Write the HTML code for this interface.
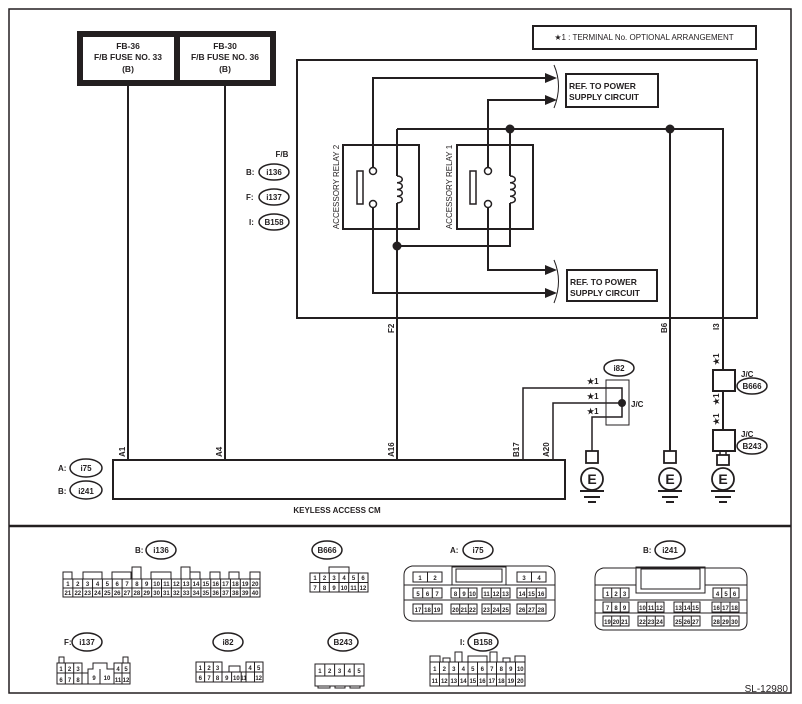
<!DOCTYPE html>
<html><head><meta charset="utf-8"><style>
html,body{margin:0;padding:0;background:#fff}
svg{display:block;font-family:"Liberation Sans",sans-serif}
text{fill:#231f20}
</style></head><body>
<svg width="802" height="704" viewBox="0 0 802 704" xmlns="http://www.w3.org/2000/svg">
<g fill="none" stroke="#231f20" stroke-width="2">
<rect x="9" y="9" width="782" height="684" stroke-width="1.5"/>
<line x1="9" y1="526" x2="791" y2="526" stroke-width="2.5"/>
<rect x="80" y="34" width="193" height="49" stroke-width="6"/>
<line x1="177" y1="34" x2="177" y2="83" stroke-width="6"/>
<line x1="128" y1="86" x2="128" y2="460"/>
<line x1="225" y1="86" x2="225" y2="460"/>
<rect x="533" y="26" width="223" height="23"/>
<rect x="297" y="60" width="460" height="258"/>
<rect x="566" y="74" width="92" height="33"/>
<rect x="567" y="270" width="90" height="31"/>
<rect x="343" y="145" width="76" height="84"/>
<rect x="457" y="145" width="76" height="84"/>
<rect x="357" y="171" width="6" height="33" stroke-width="1.5"/>
<rect x="470" y="171" width="6" height="33" stroke-width="1.5"/>
<circle cx="373" cy="171" r="3.5" stroke-width="1.5"/>
<circle cx="373" cy="204" r="3.5" stroke-width="1.5"/>
<circle cx="488" cy="171" r="3.5" stroke-width="1.5"/>
<circle cx="488" cy="204" r="3.5" stroke-width="1.5"/>
<path d="M373 167.5V78H545M488 167.5V100H545M488 207.5V270H545M373 207.5V293H545"/>
<path d="M397 129H723V370M723 391V430M670 129V451M510 129V176M510 203V246H397M397 129V176M397 203V460"/>
<path d="M397 176c7 0 7 6.75 0 6.75c7 0 7 6.75 0 6.75c7 0 7 6.75 0 6.75c7 0 7 6.75 0 6.75M510 176c7 0 7 6.75 0 6.75c7 0 7 6.75 0 6.75c7 0 7 6.75 0 6.75c7 0 7 6.75 0 6.75" stroke-width="1.5"/>
<path d="M554 65q9 21 0 43M554 260q9 21 0 43" stroke-width="1"/>
<rect x="113" y="460" width="452" height="39"/>
<path d="M523 460V388H622V417H592V451M553 460V403H622" stroke-width="1.5"/>
<rect x="606" y="380" width="23" height="45" stroke-width="1"/>
<rect x="713" y="370" width="22" height="21"/>
<rect x="713" y="430" width="22" height="21"/>
<path d="M720 451V455M726 451V455" stroke-width="1.5"/>
<g stroke-width="1.8">
<rect x="586" y="451" width="12" height="12"/><circle cx="592" cy="479" r="11"/>
<rect x="664" y="451" width="12" height="12"/><circle cx="670" cy="479" r="11"/>
<rect x="717" y="455" width="12" height="10"/><circle cx="723" cy="479" r="11"/>
</g>
<path d="M580 491H604M584 497H600M588 502H596M658 491H682M662 497H678M666 502H674M711 491H735M715 497H731M719 502H727"/>
<g stroke-width="1.5">
<ellipse cx="274" cy="172" rx="15" ry="8"/><ellipse cx="274" cy="197" rx="15" ry="8"/><ellipse cx="274" cy="222" rx="15" ry="8"/>
<ellipse cx="86" cy="468" rx="16" ry="9"/><ellipse cx="86" cy="490" rx="16" ry="9"/>
<ellipse cx="619" cy="368" rx="15" ry="8"/><ellipse cx="752" cy="386" rx="15" ry="8"/><ellipse cx="752" cy="446" rx="15" ry="8"/>
<ellipse cx="161" cy="550" rx="15" ry="9"/><ellipse cx="327" cy="550" rx="15" ry="9"/><ellipse cx="478" cy="550" rx="15" ry="9"/><ellipse cx="670" cy="550" rx="15" ry="9"/>
<ellipse cx="87" cy="642" rx="15" ry="9"/><ellipse cx="228" cy="642" rx="15" ry="9"/><ellipse cx="343" cy="642" rx="15" ry="9"/><ellipse cx="483" cy="642" rx="15" ry="9"/>
</g>
</g>
<g fill="#231f20">
<circle cx="510" cy="129" r="4.5"/><circle cx="670" cy="129" r="4.5"/><circle cx="397" cy="246" r="4.5"/><circle cx="622" cy="403" r="4"/>
<path d="M545 73L557 78L545 83ZM545 95L557 100L545 105ZM545 265L557 270L545 275ZM545 288L557 293L545 298Z"/>
</g>
<g font-size="8.5" font-weight="bold" text-anchor="middle">
<text x="128" y="49">FB-36</text><text x="128" y="60">F/B FUSE NO. 33</text><text x="128" y="72">(B)</text>
<text x="225" y="49">FB-30</text><text x="225" y="60">F/B FUSE NO. 36</text><text x="225" y="72">(B)</text>
<text x="644" y="40" font-size="8" font-weight="normal">★1 : TERMINAL No. OPTIONAL ARRANGEMENT</text>
<text x="569" y="89" text-anchor="start">REF. TO POWER</text><text x="569" y="100" text-anchor="start">SUPPLY CIRCUIT</text>
<text x="570" y="285" text-anchor="start">REF. TO POWER</text><text x="570" y="296" text-anchor="start">SUPPLY CIRCUIT</text>
<text x="337" y="513" font-size="8">KEYLESS ACCESS CM</text>
</g>
<g font-size="8" font-weight="bold">
<text x="282" y="157" text-anchor="middle">F/B</text>
<text x="246" y="175">B:</text><text x="274" y="175" text-anchor="middle">i136</text>
<text x="246" y="200">F:</text><text x="274" y="200" text-anchor="middle">i137</text>
<text x="249" y="225">I:</text><text x="274" y="225" text-anchor="middle">B158</text>
<text x="58" y="471">A:</text><text x="86" y="471" text-anchor="middle">i75</text>
<text x="58" y="494">B:</text><text x="86" y="494" text-anchor="middle">i241</text>
<text x="619" y="371" text-anchor="middle">i82</text>
<text x="752" y="389" text-anchor="middle">B666</text><text x="752" y="449" text-anchor="middle">B243</text>
<text x="741" y="377">J/C</text><text x="741" y="437">J/C</text><text x="631" y="407">J/C</text>
<text x="587" y="384">★1</text><text x="587" y="399">★1</text><text x="587" y="414">★1</text>
<g transform="rotate(-90)">
<text x="-187" y="339" text-anchor="middle" font-weight="normal">ACCESSORY RELAY 2</text>
<text x="-187" y="452" text-anchor="middle" font-weight="normal">ACCESSORY RELAY 1</text>
<text x="-457" y="125">A1</text><text x="-457" y="222">A4</text><text x="-457" y="394">A16</text>
<text x="-457" y="519">B17</text><text x="-457" y="549">A20</text>
<text x="-333" y="394">F2</text><text x="-333" y="667">B6</text><text x="-330" y="719">I3</text>
<text x="-365" y="719">★1</text><text x="-405" y="719">★1</text><text x="-425" y="719">★1</text>
</g>
<text x="135" y="553">B:</text><text x="161" y="553" text-anchor="middle">i136</text>
<text x="327" y="553" text-anchor="middle">B666</text>
<text x="450" y="553">A:</text><text x="478" y="553" text-anchor="middle">i75</text>
<text x="643" y="553">B:</text><text x="670" y="553" text-anchor="middle">i241</text>
<text x="64" y="645">F:</text><text x="87" y="645" text-anchor="middle">i137</text>
<text x="228" y="645" text-anchor="middle">i82</text>
<text x="343" y="645" text-anchor="middle">B243</text>
<text x="460" y="645">I:</text><text x="483" y="645" text-anchor="middle">B158</text>
<text x="788" y="692" text-anchor="end" font-size="10" font-weight="normal">SL-12980</text>
</g>
<g font-size="14" font-weight="bold" text-anchor="middle">
<text x="592" y="484">E</text><text x="670" y="484">E</text><text x="723" y="484">E</text>
</g>
<g fill="none" stroke="#231f20" stroke-width="1">
<rect x="63" y="579" width="197" height="18"/>
<path d="M63 588H260M72.85 579V597M82.7 579V597M92.55 579V597M102.4 579V597M112.25 579V597M122.1 579V597M131.95 579V597M141.8 579V597M151.65 579V597M161.5 579V597M171.35 579V597M181.2 579V597M191.05 579V597M200.9 579V597M210.75 579V597M220.6 579V597M230.45 579V597M240.3 579V597M250.15 579V597"/>
<path d="M63 579V572H72V579M83 579V572H102V579M112 579V572H131V579M132 579V567H141V579M151 579V572H171V579M181 579V567H190V579M190 579V572H200V579M210 579V572H220V579M229 579V572H239V579M250 579V572H260V579"/>
<rect x="310" y="573" width="58" height="19"/>
<path d="M310 582.5H368M319.7 573V592M329.3 573V592M339 573V592M348.7 573V592M358.3 573V592M329 573V567H349V573"/>
<path d="M412 566H548Q555 568 555 575V612Q555 620 548 621H412Q404 620 404 612V575Q404 568 412 566Z"/>
<path d="M404 585H555M404 600H555"/>
<rect x="452" y="567" width="54" height="18"/><rect x="456" y="569" width="46" height="13"/>
<rect x="413" y="572" width="29" height="10"/><line x1="427.5" y1="572" x2="427.5" y2="582"/>
<rect x="517" y="572" width="29" height="10"/><line x1="531.5" y1="572" x2="531.5" y2="582"/>
<rect x="413" y="588" width="29" height="10"/><rect x="451" y="588" width="26" height="10"/><rect x="482" y="588" width="28" height="10"/><rect x="517" y="588" width="29" height="10"/>
<rect x="413" y="604" width="29" height="10"/><rect x="451" y="604" width="26" height="10"/><rect x="482" y="604" width="28" height="10"/><rect x="517" y="604" width="29" height="10"/>
<path d="M422.7 588V598M432.3 588V598M459.7 588V598M468.3 588V598M491.3 588V598M500.7 588V598M526.7 588V598M536.3 588V598M422.7 604V614M432.3 604V614M459.7 604V614M468.3 604V614M491.3 604V614M500.7 604V614M526.7 604V614M536.3 604V614"/>
<path d="M603 568H740Q747 570 747 578V622Q747 629 740 630H603Q595 629 595 622V578Q595 570 603 568Z"/>
<path d="M595 585H636M705 585H747M595 600H747M595 613H747"/>
<rect x="636" y="567" width="69" height="26"/><rect x="641" y="569" width="59" height="20"/>
<rect x="603" y="588" width="26" height="10"/><rect x="713" y="588" width="26" height="10"/>
<rect x="603" y="602" width="26" height="10"/><rect x="638" y="602" width="26" height="10"/><rect x="674" y="602" width="26" height="10"/><rect x="712" y="602" width="27" height="10"/>
<rect x="603" y="616" width="26" height="10"/><rect x="638" y="616" width="26" height="10"/><rect x="674" y="616" width="26" height="10"/><rect x="712" y="616" width="27" height="10"/>
<path d="M611.7 588V598M620.3 588V598M721.7 588V598M730.3 588V598M611.7 602V612M620.3 602V612M646.7 602V612M655.3 602V612M682.7 602V612M691.3 602V612M721 602V612M730 602V612M611.7 616V626M620.3 616V626M646.7 616V626M655.3 616V626M682.7 616V626M691.3 616V626M721 616V626M730 616V626"/>
<path d="M57 663H82V673H88V669H93V663H107V669H114V663H130V684H57ZM57 673H82M114 673H130M65.3 663V684M73.7 663V684M82 673V684M88 669V684M100 669V684M114 669V684M122 663V684M59 663V657H64V663M123 663V657H128V663"/>
<path d="M196 662H222V672H229V666H240V672H246V662H263V682H196ZM196 672H263M204.6 662V682M213.3 662V682M222 672V682M231.6 672V682M241.2 672V682M246 662V682M254.5 662V682"/>
<path d="M315 664H364V686H315ZM315 676H364M324.8 664V676M334.6 664V676M344.4 664V676M354.2 664V676M318 686V688H330V686M335 686V688H345V686M350 686V688H360V686"/>
<path d="M430 662H525V686H430ZM430 674H525M439.5 662V686M449 662V686M458.5 662V686M468 662V686M477.5 662V686M487 662V686M496.5 662V686M506 662V686M515.5 662V686M430 662V656H440V662M443 662V658H450V662M455 662V652H462V662M468 662V656H487V662M490 662V652H497V662M503 662V658H510V662M515 662V656H525V662"/>
</g>
<g font-size="6" font-weight="bold" text-anchor="middle">
<text x="67.9" y="586">1</text><text x="77.8" y="586">2</text><text x="87.6" y="586">3</text><text x="97.5" y="586">4</text><text x="107.3" y="586">5</text><text x="117.2" y="586">6</text><text x="127" y="586">7</text><text x="136.9" y="586">8</text><text x="146.7" y="586">9</text><text x="156.6" y="586">10</text><text x="166.4" y="586">11</text><text x="176.3" y="586">12</text><text x="186.1" y="586">13</text><text x="196" y="586">14</text><text x="205.8" y="586">15</text><text x="215.7" y="586">16</text><text x="225.5" y="586">17</text><text x="235.4" y="586">18</text><text x="245.2" y="586">19</text><text x="255.1" y="586">20</text>
<text x="67.9" y="595">21</text><text x="77.8" y="595">22</text><text x="87.6" y="595">23</text><text x="97.5" y="595">24</text><text x="107.3" y="595">25</text><text x="117.2" y="595">26</text><text x="127" y="595">27</text><text x="136.9" y="595">28</text><text x="146.7" y="595">29</text><text x="156.6" y="595">30</text><text x="166.4" y="595">31</text><text x="176.3" y="595">32</text><text x="186.1" y="595">33</text><text x="196" y="595">34</text><text x="205.8" y="595">35</text><text x="215.7" y="595">36</text><text x="225.5" y="595">37</text><text x="235.4" y="595">38</text><text x="245.2" y="595">39</text><text x="255.1" y="595">40</text>
<text x="315" y="580">1</text><text x="324.5" y="580">2</text><text x="334" y="580">3</text><text x="344" y="580">4</text><text x="353.5" y="580">5</text><text x="363" y="580">6</text>
<text x="315" y="590">7</text><text x="324.5" y="590">8</text><text x="334" y="590">9</text><text x="344" y="590">10</text><text x="353.5" y="590">11</text><text x="363" y="590">12</text>
<text x="420" y="580">1</text><text x="435" y="580">2</text><text x="524" y="580">3</text><text x="539" y="580">4</text>
<text x="418" y="596">5</text><text x="427.5" y="596">6</text><text x="437" y="596">7</text><text x="455.5" y="596">8</text><text x="464" y="596">9</text><text x="472.5" y="596">10</text><text x="486.5" y="596">11</text><text x="496" y="596">12</text><text x="505.5" y="596">13</text><text x="522" y="596">14</text><text x="531.5" y="596">15</text><text x="541" y="596">16</text>
<text x="418" y="612">17</text><text x="427.5" y="612">18</text><text x="437" y="612">19</text><text x="455.5" y="612">20</text><text x="464" y="612">21</text><text x="472.5" y="612">22</text><text x="486.5" y="612">23</text><text x="496" y="612">24</text><text x="505.5" y="612">25</text><text x="522" y="612">26</text><text x="531.5" y="612">27</text><text x="541" y="612">28</text>
<text x="607.5" y="596">1</text><text x="616" y="596">2</text><text x="624.5" y="596">3</text><text x="717.5" y="596">4</text><text x="726" y="596">5</text><text x="734.5" y="596">6</text>
<text x="607.5" y="610">7</text><text x="616" y="610">8</text><text x="624.5" y="610">9</text><text x="642.5" y="610">10</text><text x="651" y="610">11</text><text x="659.5" y="610">12</text><text x="678.5" y="610">13</text><text x="687" y="610">14</text><text x="695.5" y="610">15</text><text x="716.5" y="610">16</text><text x="725.5" y="610">17</text><text x="734.5" y="610">18</text>
<text x="607.5" y="624">19</text><text x="616" y="624">20</text><text x="624.5" y="624">21</text><text x="642.5" y="624">22</text><text x="651" y="624">23</text><text x="659.5" y="624">24</text><text x="678.5" y="624">25</text><text x="687" y="624">26</text><text x="695.5" y="624">27</text><text x="716.5" y="624">28</text><text x="725.5" y="624">29</text><text x="734.5" y="624">30</text>
<text x="61" y="671">1</text><text x="69.5" y="671">2</text><text x="78" y="671">3</text><text x="118" y="671">4</text><text x="126" y="671">5</text>
<text x="61" y="682">6</text><text x="69.5" y="682">7</text><text x="78" y="682">8</text><text x="94" y="680">9</text><text x="107" y="680">10</text><text x="118" y="682">11</text><text x="126" y="682">12</text>
<text x="200.3" y="670">1</text><text x="209" y="670">2</text><text x="217.6" y="670">3</text><text x="250" y="670">4</text><text x="258.7" y="670">5</text>
<text x="200.3" y="680">6</text><text x="209" y="680">7</text><text x="217.6" y="680">8</text><text x="226.8" y="680">9</text><text x="236.4" y="680">10</text><text x="243.6" y="680">11</text><text x="258.7" y="680">12</text>
<text x="319.9" y="673">1</text><text x="329.7" y="673">2</text><text x="339.5" y="673">3</text><text x="349.3" y="673">4</text><text x="359.1" y="673">5</text>
<text x="434.8" y="671">1</text><text x="444.3" y="671">2</text><text x="453.8" y="671">3</text><text x="463.3" y="671">4</text><text x="472.8" y="671">5</text><text x="482.3" y="671">6</text><text x="491.8" y="671">7</text><text x="501.3" y="671">8</text><text x="510.8" y="671">9</text><text x="520.3" y="671">10</text>
<text x="434.8" y="683">11</text><text x="444.3" y="683">12</text><text x="453.8" y="683">13</text><text x="463.3" y="683">14</text><text x="472.8" y="683">15</text><text x="482.3" y="683">16</text><text x="491.8" y="683">17</text><text x="501.3" y="683">18</text><text x="510.8" y="683">19</text><text x="520.3" y="683">20</text>
</g>
</svg>
</body></html>
